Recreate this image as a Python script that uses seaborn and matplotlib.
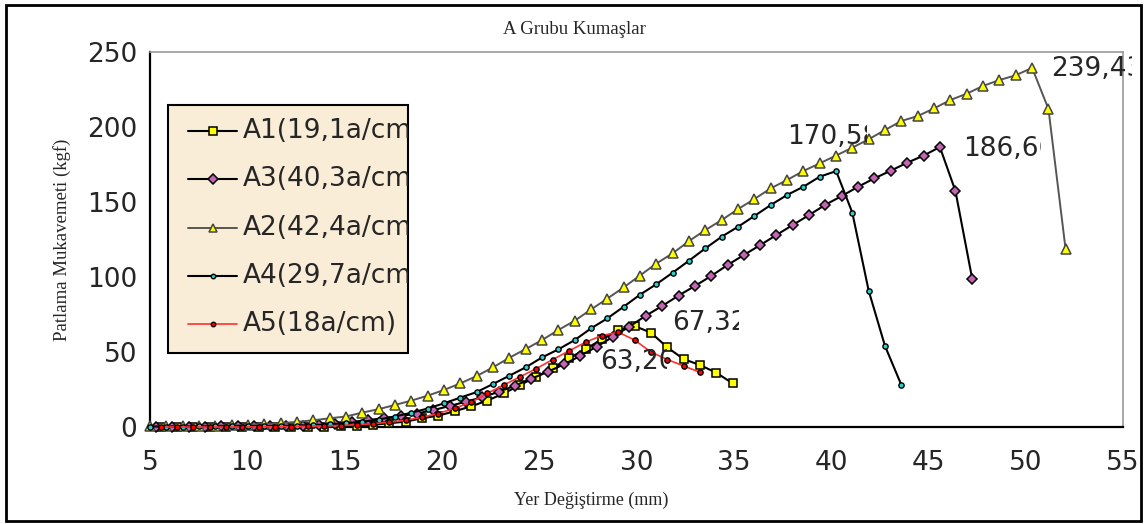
import seaborn as sns
import matplotlib.pyplot as plt
from matplotlib.patches import Rectangle
from matplotlib.lines import Line2D
from matplotlib.transforms import Bbox

# ---- data ----
a1_x = [5.55, 6.39, 7.23, 8.07, 8.91, 9.75, 10.59, 11.43, 12.27, 13.11,
        13.95, 14.79, 15.62, 16.46, 17.30, 18.14, 18.98, 19.82, 20.66, 21.50,
        22.34, 23.18, 24.02, 24.86, 25.70, 26.54, 27.38, 28.22, 29.06, 29.90,
        30.74, 31.58, 32.42, 33.26, 34.10, 34.94]
a1_y = [0, 0, 0, 0, 0, 0, 0, 0, 0.1, 0.2,
        0.3, 0.5, 0.8, 1.5, 2.5, 3.6, 5.8, 7.6, 10.5, 13.8,
        17.6, 22.4, 28.0, 33.6, 39.1, 45.8, 52.0, 58.4, 64.5, 67.32,
        62.9, 53.1, 45.3, 41.3, 36.2, 29.1]

a3_x = [5.30, 6.14, 6.98, 7.82, 8.66, 9.50, 10.33, 11.17, 12.01, 12.85,
        13.69, 14.53, 15.37, 16.21, 17.05, 17.89, 18.72, 19.56, 20.40, 21.24,
        22.08, 22.92, 23.76, 24.60, 25.44, 26.28, 27.12, 27.96, 28.80, 29.64,
        30.48, 31.32, 32.16, 33.00, 33.84, 34.68, 35.52, 36.36, 37.19, 38.03,
        38.87, 39.71, 40.55, 41.39, 42.23, 43.07, 43.91, 44.75, 45.59,
        46.39, 47.25]
a3_y = [0.3, 0.3, 0.3, 0.3, 0.4, 0.4, 0.5, 0.6, 0.7, 0.9,
        1.5, 2.3, 3.4, 4.6, 6.0, 7.3, 9.0, 11.3, 14.0, 16.9,
        19.8, 23.5, 27.6, 32.2, 36.8, 41.8, 47.5, 53.6, 60.2, 67.0,
        74.2, 80.7, 87.6, 94.0, 100.7, 108.0, 114.7, 121.3, 128.0, 134.7,
        141.3, 148.2, 154.0, 160.2, 165.8, 170.9, 176.2, 180.9, 186.66,
        157.3, 98.9]

a2_x = [5.00, 5.84, 6.68, 7.52, 8.36, 9.20, 10.04, 10.88, 11.72, 12.55,
        13.39, 14.23, 15.07, 15.91, 16.75, 17.59, 18.43, 19.27, 20.11, 20.95,
        21.79, 22.63, 23.47, 24.31, 25.15, 25.99, 26.83, 27.67, 28.50, 29.34,
        30.18, 31.02, 31.86, 32.70, 33.54, 34.38, 35.22, 36.06, 36.90, 37.74,
        38.58, 39.42, 40.26, 41.09, 41.93, 42.77, 43.61, 44.45, 45.29, 46.13,
        46.97, 47.81, 48.65, 49.49, 50.33,
        51.17, 52.05]
a2_y = [0.5, 0.5, 0.6, 0.8, 1.0, 1.2, 1.5, 2.0, 2.6, 3.4,
        4.5, 5.8, 7.0, 9.6, 11.9, 14.7, 17.6, 20.9, 24.7, 29.1,
        34.0, 39.8, 46.2, 52.0, 58.0, 64.7, 70.9, 78.4, 85.6, 93.1,
        101.0, 109.0, 115.8, 124.0, 131.3, 138.0, 145.3, 152.0, 159.1, 164.7,
        170.7, 175.8, 181.0, 186.2, 191.8, 198.0, 204.0, 207.3, 212.4, 218.0,
        222.2, 227.4, 231.3, 234.5, 239.43,
        212.0, 118.5]

a4_x = [5.00, 5.84, 6.68, 7.52, 8.36, 9.20, 10.04, 10.88, 11.72, 12.55,
        13.39, 14.23, 15.07, 15.91, 16.75, 17.59, 18.43, 19.27, 20.11, 20.95,
        21.79, 22.63, 23.47, 24.31, 25.15, 25.99, 26.83, 27.67, 28.50, 29.34,
        30.18, 31.02, 31.86, 32.70, 33.54, 34.38, 35.22, 36.06, 36.90, 37.74,
        38.58, 39.42, 40.26,
        41.09, 41.93, 42.77, 43.61]
a4_y = [0.3, 0.3, 0.3, 0.4, 0.4, 0.5, 0.5, 0.6, 0.8, 1.0,
        1.3, 1.8, 2.5, 3.5, 5.0, 7.0, 9.5, 12.3, 15.8, 19.6,
        23.3, 28.7, 34.2, 39.8, 46.4, 51.8, 58.0, 65.8, 72.4, 80.2,
        88.2, 95.2, 102.9, 110.9, 119.1, 126.9, 133.5, 140.7, 148.0, 154.7,
        160.2, 166.9, 170.58,
        142.9, 90.9, 54.0, 28.0]

a5_x = [5.55, 6.39, 7.23, 8.07, 8.91, 9.75, 10.59, 11.43, 12.27, 13.11,
        13.95, 14.79, 15.62, 16.46, 17.30, 18.14, 18.98, 19.82, 20.66, 21.50,
        22.34, 23.18, 24.02, 24.86, 25.70, 26.54, 27.38, 28.22, 29.06, 29.90,
        30.74, 31.58, 32.42, 33.26]
a5_y = [0, 0, 0, 0, 0, 0, 0.1, 0.2, 0.3, 0.5,
        0.7, 1.0, 1.5, 2.2, 3.2, 4.5, 6.5, 9.0, 12.5, 16.5,
        22.5, 28.0, 33.5, 39.0, 45.0, 50.8, 56.5, 61.0, 63.2, 58.0,
        50.0, 45.0, 40.7, 36.5]

series_names = ["A1(19,1a/cm)", "A3(40,3a/cm)", "A2(42,4a/cm)",
                "A4(29,7a/cm)", "A5(18a/cm)"]
peak_labels = ["67,32", "186,66", "239,43", "170,58", "63,20"]
x_ticks = [5, 10, 15, 20, 25, 30, 35, 40, 45, 50, 55]
y_ticks = [0, 50, 100, 150, 200, 250]

sns.set_style("white")
plt.rcParams["font.family"] = ["DejaVu Sans"]
big_size = 19
serif = "Liberation Serif"

W, H = 1145, 524
fig = plt.figure(figsize=(W / 100, H / 100), dpi=100)
ax = fig.add_axes([150 / W, 1 - 427 / H, (1123 - 150) / W, (427 - 52) / H])

# line styles per series
styles = [
    dict(color="black", lw=1.5, marker="s", ms=6, mfc="#FFFF00", mec="black", mew=1.1),
    dict(color="black", lw=1.5, marker="D", ms=5.5, mfc="#C464B4", mec="black", mew=1.1),
    dict(color="#555555", lw=1.4, marker="^", ms=7, mfc="#FFFF00", mec="#444444", mew=1.1),
    dict(color="black", lw=1.5, marker="o", ms=3.8, mfc="#33CCCC", mec="black", mew=1.0),
    dict(color="#FF3030", lw=1.2, marker="o", ms=3.8, mfc="#FF0000", mec="black", mew=1.0),
]
data = [(a1_x, a1_y), (a3_x, a3_y), (a2_x, a2_y), (a4_x, a4_y), (a5_x, a5_y)]

for (xs, ys), st in zip(data, styles):
    sns.lineplot(x=xs, y=ys, ax=ax, estimator=None, sort=False,
                 color=st["color"], linewidth=st["lw"], marker=st["marker"],
                 markersize=st["ms"], markerfacecolor=st["mfc"],
                 markeredgecolor=st["mec"], markeredgewidth=st["mew"],
                 clip_on=False, zorder=3)

ax.set_xlim(5, 55)
ax.set_ylim(0, 250)
ax.set_xticks(x_ticks)
ax.set_yticks(y_ticks)
ax.tick_params(axis="x", direction="out", length=6.5, width=1.5, pad=10,
               labelsize=big_size)
ax.tick_params(axis="y", direction="out", length=6, width=1.5, pad=3,
               labelsize=big_size)
for s in ["left", "bottom"]:
    ax.spines[s].set_color("black")
    ax.spines[s].set_linewidth(1.6)
for s in ["top", "right"]:
    ax.spines[s].set_color("#999999")
    ax.spines[s].set_linewidth(1.2)

# titles (serif, small)
fig.text(574 / W, 1 - 30 / H, "A Grubu Kumaşlar", family=serif, fontsize=13.5,
         ha="center", va="center")
fig.text(591 / W, 1 - 500 / H, "Yer Değiştirme (mm)", family=serif, fontsize=13,
         ha="center", va="center")
fig.text(62 / W, 1 - 240 / H, "Patlama Mukavemeti (kgf)", family=serif, fontsize=13.5,
         ha="center", va="center", rotation=90)

# outer chart border
fig.patches.append(Rectangle((6 / W, 1 - 521 / H), (1141 - 6) / W, (521 - 5) / H,
                             transform=fig.transFigure, fill=False, lw=2,
                             ec="black"))

# legend box (manual so the long labels get cut like in the original)
box = Rectangle((168 / W, 1 - 353 / H), (408 - 168) / W, (353 - 105) / H,
                transform=fig.transFigure, fc="#FAEDD7", ec="black", lw=1.5,
                zorder=5)
fig.patches.append(box)
for i, (name, st) in enumerate(zip(series_names, styles)):
    yy = 1 - (131 + 48.3 * i) / H
    fig.lines.append(Line2D([188 / W, 237 / W], [yy, yy], transform=fig.transFigure,
                            color=st["color"], lw=st["lw"], zorder=6))
    fig.lines.append(Line2D([212.5 / W], [yy], transform=fig.transFigure,
                            marker=st["marker"], ms=st["ms"] * 0.85, mfc=st["mfc"],
                            mec=st["mec"], mew=st["mew"], zorder=7))
    t = fig.text(243 / W, yy, name, fontsize=big_size, ha="left", va="center",
                 zorder=7)
    t.set_clip_path(box)

# peak data labels, cut to a fixed width like Excel data labels
# offset in pixels from peak point (dx, dy) and visible width
offsets = [(38, 3, 66), (23, -1.5, 78), (19, -1, 81), (-49, 34, 80), (-18, -30, 67)]
for (xs, ys), lab, (dx, dy, w) in zip(data, peak_labels, offsets):
    k = ys.index(max(ys))
    px, py = ax.transData.transform((xs[k], ys[k]))
    t = ax.annotate(lab, xy=(xs[k], ys[k]), xytext=(dx, dy),
                    textcoords="offset pixels", ha="left", va="center",
                    fontsize=big_size, annotation_clip=False, zorder=6)
    t.set_clip_box(Bbox.from_extents(px + dx - 2, py + dy - 25, px + dx + w, py + dy + 25))
    t.set_clip_on(True)

fig.savefig("out.png", dpi=100)
